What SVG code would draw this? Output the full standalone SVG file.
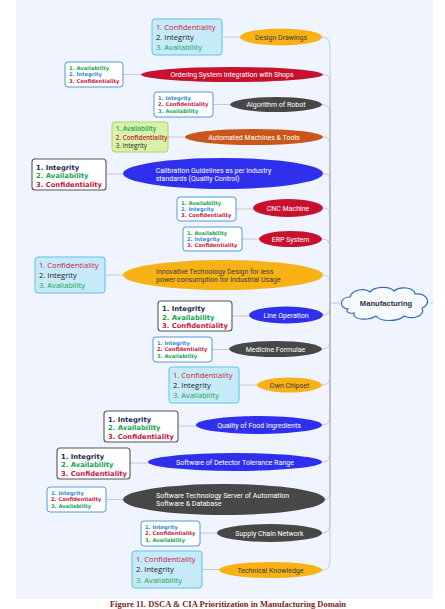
<svg xmlns="http://www.w3.org/2000/svg" width="445" height="609" viewBox="0 0 445 609">
<style>
.bg{fill:#F0F4FE}
.cn{fill:none;stroke:#BDBDBD;stroke-width:0.8}
.lbl{font-family:Roboto,"Liberation Sans",sans-serif;font-size:7px;fill:#fff;text-anchor:middle}
.lbl2{font-family:Roboto,"Liberation Sans",sans-serif;font-size:7px;fill:#fff}
.dkt{fill:#3a3a3a}
.big{font-family:"Open Sans","Liberation Sans",sans-serif;font-size:7.6px}
.sm{font-family:"DejaVu Sans",sans-serif;font-weight:bold;font-size:5.2px}
.dk{font-family:"DejaVu Sans",sans-serif;font-weight:bold;font-size:6.8px}
.gt{font-family:"Open Sans","Liberation Sans",sans-serif;font-size:6.3px}
.r{fill:#C8173F}.g{fill:#13A650}.b{fill:#2F86D4}.n{fill:#1E2A52}.k{fill:#222}
.bxL{fill:#C6EAF8;stroke:#5CC3E8;stroke-width:1}
.bxS{fill:#fff;stroke:#3D8FD9;stroke-width:0.9}
.bxD{fill:#fff;stroke:#555;stroke-width:1.1}
.bxG{fill:#D9F2A8;stroke:#A9D46A;stroke-width:1}
.or{fill:#F8B216}.cr{fill:#C8112F}.gy{fill:#474747}.br{fill:#C9571C}.bl{fill:#2F2FEE}
</style>
<rect x="16" y="0" width="417" height="599" class="bg"/>
<g id="connectors">
<path class="cn" d="M322 37 C328 37 330 40 330 49 L330 303"/>
<path class="cn" d="M323 74.5 C329 74.5 330 77.5 330 86.5 L330 303"/>
<path class="cn" d="M322 104.5 C328 104.5 330 107.5 330 116.5 L330 303"/>
<path class="cn" d="M323 137 C329 137 330 140 330 149 L330 303"/>
<path class="cn" d="M323 173.5 C329 173.5 330 176.5 330 185.5 L330 303"/>
<path class="cn" d="M323 208 C329 208 330 211 330 220 L330 303"/>
<path class="cn" d="M322 239 C328 239 330 242 330 251 L330 303"/>
<path class="cn" d="M323 275 C329 275 330 278 330 287 L330 303"/>
<path class="cn" d="M323 315 C329 315 330 311 330 303"/>
<path class="cn" d="M322 349 C328 349 330 346 330 337 L330 303"/>
<path class="cn" d="M322 385 C328 385 330 382 330 373 L330 303"/>
<path class="cn" d="M322 425 C328 425 330 422 330 413 L330 303"/>
<path class="cn" d="M322 462 C328 462 330 459 330 450 L330 303"/>
<path class="cn" d="M325 499.5 C329 499.5 330 496.5 330 487.5 L330 303"/>
<path class="cn" d="M322 533 C328 533 330 530 330 521 L330 303"/>
<path class="cn" d="M322 570 C328 570 330 567 330 558 L330 303"/>
<path class="cn" d="M330 303 H340 M430 303 H433"/>
<path class="cn" d="M222 37 H240 M123 74.5 H141 M213 104.5 H230 M168 137 H185 M106 174 H123 M236 209 H253 M242 239 H259 M105 275 H123 M232 316 H249 M212 349.5 H229 M239 385 H257 M178 426 H196 M130 463 H148 M106 499.5 H123 M200 533 H217 M202 569.5 H219"/>
</g>
<g id="hub">
<path d="M348 309 C338 308 340 297 350 297 C352 289 366 288 370 292 C375 286 390 286 394 291 C400 286 414 287 415 294 C428 293 432 304 422 308 C426 316 412 320 404 316 C398 322 380 322 376 316 C368 321 352 320 354 313 C348 314 345 311 348 309 Z" fill="#F6F9FF" stroke="#2D6CB5" stroke-width="1.2"/>
<text x="386" y="306" font-family="'Liberation Sans',Arial,sans-serif" font-size="7.6" font-weight="bold" fill="#333" text-anchor="middle">Manufacturing</text>
</g>
<g id="n1">
<ellipse cx="281" cy="37" rx="41" ry="8.5" class="or"/>
<text x="281" y="39.5" class="lbl dkt">Design Drawings</text>
<rect x="152" y="19" width="70" height="36" rx="3" class="bxL"/>
<text class="big"><tspan x="156" y="29.5" class="r">1. Confidentiality</tspan><tspan x="156" y="39.8" class="k">2. Integrity</tspan><tspan x="156" y="50.1" class="g">3. Availability</tspan></text>
</g>
<g id="n2">
<ellipse cx="232" cy="74.5" rx="91" ry="7.5" class="cr"/>
<text x="232" y="77" class="lbl">Ordering System Integration with Shops</text>
<rect x="65" y="62" width="58" height="25" rx="3" class="bxS"/>
<text class="sm"><tspan x="69" y="70.2" class="g">1. Availability</tspan><tspan x="69" y="76.4" class="b">2. Integrity</tspan><tspan x="69" y="82.6" class="r">3. Confidentiality</tspan></text>
</g>
<g id="n3">
<ellipse cx="276" cy="104.5" rx="46" ry="7.5" class="gy"/>
<text x="276" y="107" class="lbl">Algorithm of Robot</text>
<rect x="154" y="92" width="59" height="25" rx="3" class="bxS"/>
<text class="sm"><tspan x="158" y="100.2" class="b">1. Integrity</tspan><tspan x="158" y="106.4" class="r">2. Confidentiality</tspan><tspan x="158" y="112.6" class="g">3. Availability</tspan></text>
</g>
<g id="n4">
<ellipse cx="254" cy="137" rx="69" ry="8" class="br"/>
<text x="254" y="139.5" class="lbl">Automated Machines &amp; Tools</text>
<rect x="112" y="122" width="56" height="30" rx="3" class="bxG"/>
<text class="gt"><tspan x="115.7" y="131.2" class="g" font-weight="600">1. Availability</tspan><tspan x="115.7" y="139.5" class="r" font-weight="600">2. Confidentiality</tspan><tspan x="115.7" y="147.8" class="k">3. Integrity</tspan></text>
</g>
<g id="n5">
<ellipse cx="223" cy="173.5" rx="100" ry="15.5" class="bl"/>
<text class="lbl2"><tspan x="155.7" y="172.5">Calibration Guidelines as per industry</tspan><tspan x="155.7" y="181">standards (Quality Control)</tspan></text>
<rect x="32" y="159" width="74" height="31" rx="3" class="bxD"/>
<text class="dk"><tspan x="36" y="169.5" class="n">1. Integrity</tspan><tspan x="36" y="178" class="g">2. Availability</tspan><tspan x="36" y="186.5" class="r">3. Confidentiality</tspan></text>
</g>
<g id="n6">
<ellipse cx="288" cy="208" rx="35" ry="9" class="cr"/>
<text x="288" y="210.5" class="lbl">CNC Machine</text>
<rect x="177" y="197" width="59" height="24" rx="3" class="bxS"/>
<text class="sm"><tspan x="181" y="204.8" class="g">1. Availability</tspan><tspan x="181" y="211" class="b">2. Integrity</tspan><tspan x="181" y="217.2" class="r">3. Confidentiality</tspan></text>
</g>
<g id="n7">
<ellipse cx="290.5" cy="239" rx="31.5" ry="8" class="cr"/>
<text x="290.5" y="241.5" class="lbl">ERP System</text>
<rect x="183" y="227" width="59" height="24" rx="3" class="bxS"/>
<text class="sm"><tspan x="187" y="234.8" class="g">1. Availability</tspan><tspan x="187" y="241" class="b">2. Integrity</tspan><tspan x="187" y="247.2" class="r">3. Confidentiality</tspan></text>
</g>
<g id="n8">
<ellipse cx="223" cy="275" rx="100" ry="15" class="or"/>
<text class="lbl2 dkt"><tspan x="156" y="273.5">Innovative Technology Design for less</tspan><tspan x="156" y="282">power consumption for Industrial Usage</tspan></text>
<rect x="35" y="257" width="70" height="36" rx="3" class="bxL"/>
<text class="big"><tspan x="39" y="267.5" class="r">1. Confidentiality</tspan><tspan x="39" y="277.8" class="k">2. Integrity</tspan><tspan x="39" y="288.1" class="g">3. Availability</tspan></text>
</g>
<g id="n9">
<ellipse cx="286" cy="315" rx="37" ry="8.5" class="bl"/>
<text x="286" y="317.5" class="lbl">Line Operation</text>
<rect x="158" y="301" width="74" height="30" rx="3" class="bxD"/>
<text class="dk"><tspan x="162" y="311" class="n">1. Integrity</tspan><tspan x="162" y="319.5" class="g">2. Availability</tspan><tspan x="162" y="328" class="r">3. Confidentiality</tspan></text>
</g>
<g id="n10">
<ellipse cx="275.5" cy="349" rx="46.5" ry="8" class="gy"/>
<text x="275.5" y="351.5" class="lbl">Medicine Formulae</text>
<rect x="153" y="337" width="59" height="25" rx="3" class="bxS"/>
<text class="sm"><tspan x="157" y="345.2" class="b">1. Integrity</tspan><tspan x="157" y="351.4" class="r">2. Confidentiality</tspan><tspan x="157" y="357.6" class="g">3. Availability</tspan></text>
</g>
<g id="n11">
<ellipse cx="289.5" cy="385" rx="32.5" ry="7.5" class="or"/>
<text x="289.5" y="387.5" class="lbl dkt">Own Chipset</text>
<rect x="169" y="367" width="70" height="36" rx="3" class="bxL"/>
<text class="big"><tspan x="173" y="377.5" class="r">1. Confidentiality</tspan><tspan x="173" y="387.8" class="k">2. Integrity</tspan><tspan x="173" y="398.1" class="g">3. Availability</tspan></text>
</g>
<g id="n12">
<ellipse cx="259" cy="425" rx="63" ry="9" class="bl"/>
<text x="259" y="427.5" class="lbl">Quality of Food Ingredients</text>
<rect x="104" y="411" width="74" height="31" rx="3" class="bxD"/>
<text class="dk"><tspan x="108" y="421.5" class="n">1. Integrity</tspan><tspan x="108" y="430" class="g">2. Availability</tspan><tspan x="108" y="438.5" class="r">3. Confidentiality</tspan></text>
</g>
<g id="n13">
<ellipse cx="235" cy="462" rx="87" ry="9" class="bl"/>
<text x="235" y="464.5" class="lbl">Software of Detector Tolerance Range</text>
<rect x="57" y="448" width="73" height="31" rx="3" class="bxD"/>
<text class="dk"><tspan x="61" y="458.5" class="n">1. Integrity</tspan><tspan x="61" y="467" class="g">2. Availability</tspan><tspan x="61" y="475.5" class="r">3. Confidentiality</tspan></text>
</g>
<g id="n14">
<ellipse cx="224" cy="499.5" rx="101" ry="15.5" class="gy"/>
<text class="lbl2"><tspan x="156" y="497.5">Software Technology Server of Automation</tspan><tspan x="156" y="506">Software &amp; Database</tspan></text>
<rect x="47" y="487" width="59" height="25" rx="3" class="bxS"/>
<text class="sm"><tspan x="51" y="495.2" class="b">1. Integrity</tspan><tspan x="51" y="501.4" class="r">2. Confidentiality</tspan><tspan x="51" y="507.6" class="g">3. Availability</tspan></text>
</g>
<g id="n15">
<ellipse cx="269.5" cy="533" rx="52.5" ry="9" class="gy"/>
<text x="269.5" y="535.5" class="lbl">Supply Chain Network</text>
<rect x="141" y="521" width="59" height="25" rx="3" class="bxS"/>
<text class="sm"><tspan x="145" y="529.2" class="b">1. Integrity</tspan><tspan x="145" y="535.4" class="r">2. Confidentiality</tspan><tspan x="145" y="541.6" class="g">3. Availability</tspan></text>
</g>
<g id="n16">
<ellipse cx="270.5" cy="570" rx="51.5" ry="8" class="or"/>
<text x="270.5" y="572.5" class="lbl dkt">Technical Knowledge</text>
<rect x="132" y="551" width="70" height="37" rx="3" class="bxL"/>
<text class="big"><tspan x="136" y="561.5" class="r">1. Confidentiality</tspan><tspan x="136" y="572" class="k">2. Integrity</tspan><tspan x="136" y="582.5" class="g">3. Availability</tspan></text>
</g>
<text x="228" y="606.5" font-family="'Liberation Serif',serif" font-size="8.5" font-weight="bold" fill="#7A1E1E" text-anchor="middle">Figure 11. DSCA &amp; CIA Prioritization in Manufacturing Domain</text>
</svg>
